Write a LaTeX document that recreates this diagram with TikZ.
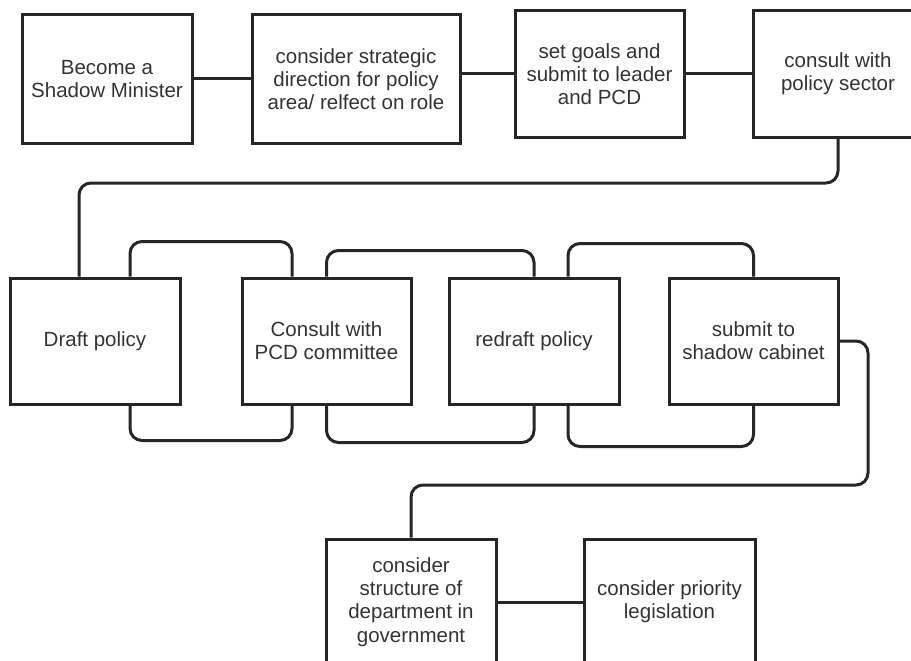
\documentclass[tikz,border=0pt]{standalone}
\usepackage{fontspec}
\setmainfont{Liberation Sans}
\usetikzlibrary{calc}
\tikzset{
  stepbox/.style={draw=black!85, line width=3pt, inner sep=0pt,
    minimum width=170pt, minimum height=126pt, align=center,
    text=black!80, font=\fontsize{20.5}{23.3}\selectfont},
  link/.style={draw=black!85, line width=3pt, rounded corners=12pt}
}

\begin{document}
\begin{tikzpicture}[x=1pt, y=-1pt]
  \path[use as bounding box, clip] (0,0) rectangle (911,661);

  % Top row
  \node[stepbox, minimum height=128pt] (become) at (107,79) {Become a\\Shadow Minister};
  \node[stepbox, minimum width=208pt, minimum height=128pt] (strategy) at (356,79) {consider strategic\\direction for policy\\area/ relfect on role};
  \node[stepbox, minimum width=169pt] (goals) at (599.5,74) {set goals and\\submit to leader\\and PCD};
  \node[stepbox] (sector) at (838,74) {consult with\\policy sector};

  \draw[link] (become) -- (strategy);
  \draw[link] (goals.west -| strategy.east) -- (goals.west);
  \draw[link] (goals) -- (sector);

  % Middle row
  \node[stepbox] (draft) at (95,341) {Draft policy};
  \node[stepbox, minimum width=169pt] (pcd) at (326.5,341) {Consult with\\PCD committee};
  \node[stepbox] (redraft) at (534,341) {redraft policy};
  \node[stepbox, minimum width=169pt] (cabinet) at (753.5,341) {submit to\\shadow cabinet};

  \coordinate (turn1) at (79,183);
  \draw[link] (sector.south) |- (turn1) -- (turn1 |- draft.north);

  % Loops between the drafting steps
  \draw[link] (draft.north -| 130,0) -- ++(0,-35) -| (pcd.north -| 292,0);
  \draw[link] (draft.south -| 130,0) -- ++(0,35) -| (pcd.south -| 292,0);
  \draw[link] (pcd.north) -- ++(0,-26) -| (redraft.north);
  \draw[link] (pcd.south) -- ++(0,37) -| (redraft.south);
  \draw[link] (redraft.north -| 568,0) -- ++(0,-33) -| (cabinet.north);
  \draw[link] (redraft.south -| 568,0) -- ++(0,41) -| (cabinet.south);

  % Bottom row
  \node[stepbox] (structure) at (411,602) {consider\\structure of\\department in\\government};
  \node[stepbox, minimum width=171pt] (priority) at (669.5,602) {consider priority\\legislation};

  \coordinate (turn2) at (868,485);
  \draw[link] (cabinet.east) -| (turn2) -| (structure.north);
  \draw[link] (structure) -- (priority);
\end{tikzpicture}
\end{document}
